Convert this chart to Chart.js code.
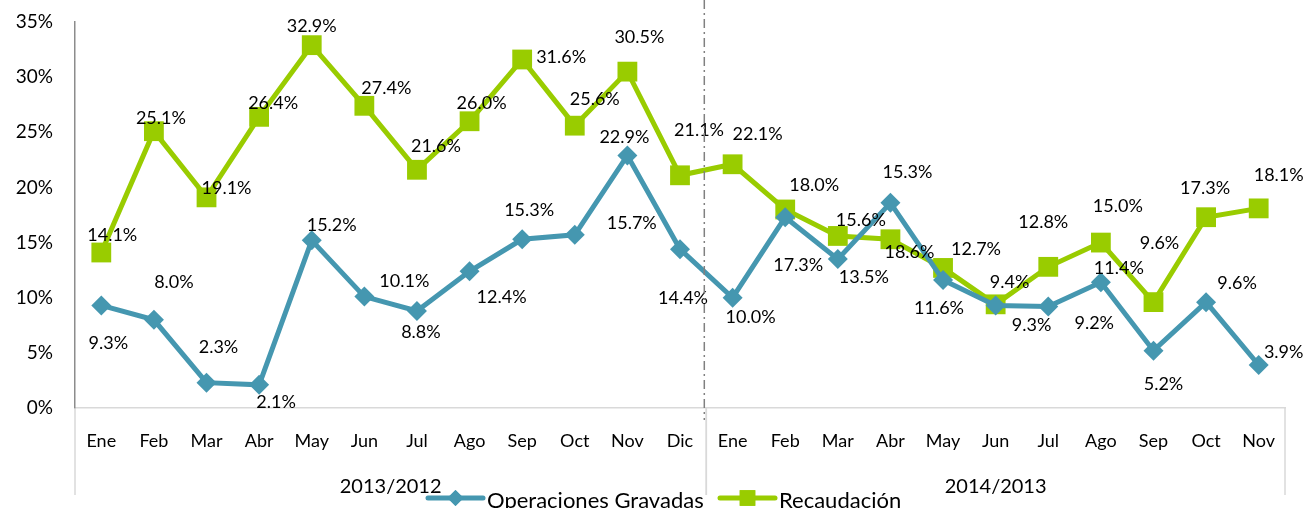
<!DOCTYPE html>
<html>
<head>
<meta charset="utf-8">
<script src="https://cdn.jsdelivr.net/npm/chart.js@4"></script>
<style>
  html, body { margin: 0; padding: 0; background: #fff; }
  canvas { display: block; }
</style>
</head>
<body>
<canvas id="chart" width="1307" height="508"></canvas>
<script>
// Month names for each period.
const months2013 = ['Ene', 'Feb', 'Mar', 'Abr', 'May', 'Jun', 'Jul', 'Ago', 'Sep', 'Oct', 'Nov', 'Dic'];
const months2014 = ['Ene', 'Feb', 'Mar', 'Abr', 'May', 'Jun', 'Jul', 'Ago', 'Sep', 'Oct', 'Nov'];
const periods = ['2013/2012', '2014/2013'];

// Year-over-year growth, in percent.
const operaciones = [9.3, 8.0, 2.3, 2.1, 15.2, 10.1, 8.8, 12.4, 15.3, 15.7, 22.9, 14.4,
                     10.0, 17.3, 13.5, 18.6, 11.6, 9.3, 9.2, 11.4, 5.2, 9.6, 3.9];
const recaudacion = [14.1, 25.1, 19.1, 26.4, 32.9, 27.4, 21.6, 26.0, 31.6, 25.6, 30.5, 21.1,
                     22.1, 18.0, 15.6, 15.3, 12.7, 9.4, 12.8, 15.0, 9.6, 17.3, 18.1];

// Y axis ticks.
const yMin = 0, yMax = 35, yStep = 5;

const labels = months2013.concat(months2014);
const periodSizes = [months2013.length, months2014.length];

const BLUE = '#4597b0';
const GREEN = '#99cc00';
const FONT = 'Lato, "Open Sans", sans-serif';

// Where each value label sits relative to its point (px).
const labelShift = {
    operaciones: [[7,38],[20,-38],[12,-35],[17,17],[20,-15],[40,-15],[4,21],[32,26],[7,-29],[57,-12],[-3,-18],[3,49],
                  [18,19],[13,48],[26,18],[19,49],[-4,28],[36,20],[46,17],[18,-14],[10,34],[31,-19],[25,-13]],
    recaudacion: [[11,-17],[7,-13],[20,-9],[14,-14],[0,-19],[22,-18],[19,-24],[12,-18],[39,-2],[20,-26],[12,-34],[19,-45],
                  [25,-30],[29,-24],[23,-16],[17,-67],[33,-19],[14,-22],[-5,-45],[17,-36],[6,-59],[-1,-29],[20,-33]]
};

const pctLabels = {
    id: 'pctLabels',
    afterDatasetsDraw(chart) {
        const ctx = chart.ctx;
        ctx.save();
        ctx.font = '18px ' + FONT;
        ctx.fillStyle = '#000';
        ctx.textAlign = 'center';
        ctx.textBaseline = 'middle';
        chart.data.datasets.forEach((ds, i) => {
            const meta = chart.getDatasetMeta(i);
            meta.data.forEach((pt, j) => {
                const [dx, dy] = labelShift[ds.key][j];
                ctx.fillText(ds.data[j].toFixed(1) + '%', pt.x + dx, pt.y + dy);
            });
        });
        ctx.restore();
    }
};

const decorations = {
    id: 'decorations',
    afterDraw(chart) {
        const ctx = chart.ctx;
        const x = chart.scales.x;
        const area = chart.chartArea;
        const step = x.getPixelForValue(1) - x.getPixelForValue(0);
        const bottom = area.bottom + 87;

        ctx.save();
        // Period separators below the axis and period names.
        ctx.strokeStyle = '#d9d9d9';
        ctx.lineWidth = 1.5;
        ctx.font = '20px ' + FONT;
        ctx.fillStyle = '#000';
        ctx.textAlign = 'center';
        ctx.textBaseline = 'middle';
        let start = 0;
        periodSizes.forEach((n, p) => {
            const left = x.getPixelForValue(start) - step / 2;
            const right = x.getPixelForValue(start + n - 1) + step / 2;
            [left, right].forEach(px => {
                ctx.beginPath();
                ctx.moveTo(px, area.bottom);
                ctx.lineTo(px, bottom);
                ctx.stroke();
            });
            ctx.fillText(periods[p], (left + right) / 2, area.bottom + 79);
            start += n;
        });

        // Dash-dot divider between the two periods.
        const div = x.getPixelForValue(periodSizes[0]) - step / 2 - 2;
        ctx.strokeStyle = '#808080';
        ctx.lineWidth = 1.5;
        ctx.setLineDash([9, 4, 2, 4]);
        ctx.beginPath();
        ctx.moveTo(div, 0);
        ctx.lineTo(div, area.bottom + 12);
        ctx.stroke();
        ctx.setLineDash([]);

        // Legend.
        const legendY = 498;
        const items = [
            { text: 'Operaciones Gravadas', color: BLUE, x: 428, style: 'rectRot', r: 8 },
            { text: 'Recaudación', color: GREEN, x: 720, style: 'rect', r: 11 }
        ];
        ctx.font = '22px ' + FONT;
        ctx.textAlign = 'left';
        ctx.textBaseline = 'alphabetic';
        items.forEach(it => {
            ctx.strokeStyle = it.color;
            ctx.lineWidth = 5;
            ctx.lineCap = 'round';
            ctx.beginPath();
            ctx.moveTo(it.x, legendY);
            ctx.lineTo(it.x + 55, legendY);
            ctx.stroke();
            ctx.fillStyle = it.color;
            Chart.helpers.drawPoint(ctx, { pointStyle: it.style, radius: it.r, borderWidth: 0 }, it.x + 27.5, legendY);
            ctx.fill();
            ctx.fillStyle = '#000';
            ctx.fillText(it.text, it.x + 59, 508);
        });
        ctx.restore();
    }
};

new Chart(document.getElementById('chart'), {
    type: 'line',
    data: {
        labels: labels,
        datasets: [
            {
                key: 'operaciones',
                label: 'Operaciones Gravadas',
                data: operaciones,
                borderColor: BLUE,
                backgroundColor: BLUE,
                borderWidth: 5,
                pointStyle: 'rectRot',
                pointRadius: 10,
                pointBorderWidth: 0,
                tension: 0
            },
            {
                key: 'recaudacion',
                label: 'Recaudación',
                data: recaudacion,
                borderColor: GREEN,
                backgroundColor: GREEN,
                borderWidth: 5,
                pointStyle: 'rect',
                pointRadius: 14,
                pointBorderWidth: 0,
                tension: 0
            }
        ]
    },
    options: {
        responsive: false,
        animation: false,
        devicePixelRatio: 1,
        layout: { autoPadding: false, padding: { top: 22, right: 22, left: 0, bottom: 0 } },
        plugins: {
            legend: { display: false },
            title: { display: false },
            tooltip: { enabled: false }
        },
        scales: {
            x: {
                offset: true,
                grid: { display: false },
                border: { display: true, color: '#d9d9d9', width: 1.5 },
                ticks: {
                    autoSkip: false,
                    maxRotation: 0,
                    padding: 14,
                    color: '#000',
                    font: { family: FONT, size: 18 }
                },
                afterFit: s => { s.height = 100; }
            },
            y: {
                min: yMin,
                max: yMax,
                // invisible tick marks keep the labels away from the axis line
                grid: { display: true, drawOnChartArea: false, drawTicks: true, tickLength: 20, color: 'rgba(0,0,0,0)' },
                border: { display: true, color: '#8c8c8c', width: 1.5 },
                ticks: {
                    stepSize: yStep,
                    padding: 2,
                    color: '#000',
                    font: { family: FONT, size: 19 },
                    callback: v => v + '%'
                },
                afterFit: s => { s.width = 75; }
            }
        }
    },
    plugins: [pctLabels, decorations]
});
</script>
</body>
</html>
